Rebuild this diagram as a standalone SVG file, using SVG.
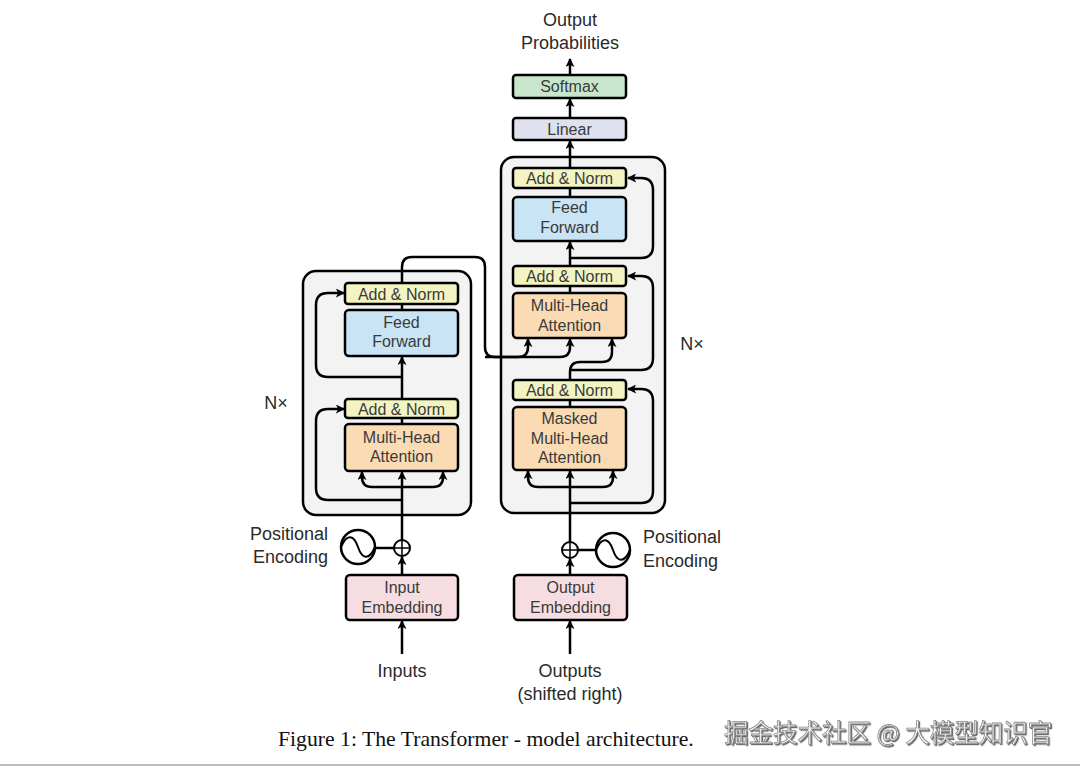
<svg xmlns="http://www.w3.org/2000/svg" width="1080" height="767" viewBox="0 0 1080 767">
<defs>
<marker id="ah" viewBox="0 0 10 10" refX="9" refY="5" markerWidth="9" markerHeight="9" markerUnits="userSpaceOnUse" orient="auto">
<path d="M0,0 L10,5 L0,10 L2.5,5 Z" fill="#000"/>
</marker>
<filter id="sh" x="-5%" y="-20%" width="110%" height="140%">
<feDropShadow dx="1.2" dy="1.2" stdDeviation="0.6" flood-color="#555" flood-opacity="0.9"/>
</filter>
<style>
.blk{fill:#f3f3f3;stroke:#000;stroke-width:2.5}
.box{stroke:#000;stroke-width:2.5}
.an{fill:#f4f4c3}
.ff{fill:#c8e4f5}
.mha{fill:#fbdbb4}
.emb{fill:#f6dde1}
.lin{fill:#dfe1ee}
.sm{fill:#c8e6cc}
.t{font-family:"Liberation Sans",Arial,sans-serif;font-size:16px;fill:#3a3a3a;text-anchor:middle}
.l{font-family:"Liberation Sans",Arial,sans-serif;font-size:18px;fill:#2a2a2a}
.c{stroke:#000;stroke-width:2.5;fill:none}
.a{marker-end:url(#ah)}
</style>
</defs>
<rect width="1080" height="767" fill="#fff"/>

<g id="encoder-block"><rect class="blk" x="303" y="271" width="168" height="244" rx="13"/></g>
<g id="decoder-block"><rect class="blk" x="501" y="157" width="164" height="356" rx="13"/></g>

<g id="connectors">
<!-- encoder -->
<path class="c a" d="M402,654 V621"/>
<path class="c a" d="M402,575 V557"/>
<path class="c" d="M375,548 H394"/>
<path class="c a" d="M402,540 V472"/>
<path class="c a" d="M402,487 H372 Q362,487 362,477 V472"/>
<path class="c a" d="M402,487 H433 Q443,487 443,477 V472"/>
<path class="c a" d="M402,500 H328 Q316,500 316,488 V421 Q316,409 328,409 H344"/>
<path class="c" d="M402,424 V418"/>
<path class="c a" d="M402,399 V357"/>
<path class="c a" d="M402,377 H328 Q316,377 316,365 V305 Q316,293 328,293 H344"/>
<path class="c" d="M402,310 V304"/>
<path class="c a" d="M402,283 V267 Q402,257 412,257 H475 Q485,257 485,267 V347 Q485,357 495,357 H518 Q528,357 528,347 V339"/>
<path class="c a" d="M485,357 H560 Q570,357 570,347 V339"/>
<!-- decoder -->
<path class="c a" d="M570,654 V621"/>
<path class="c a" d="M570,575 V559"/>
<path class="c" d="M578,550 H596"/>
<path class="c a" d="M570,542 V471"/>
<path class="c a" d="M570,487 H538 Q528,487 528,477 V471"/>
<path class="c a" d="M570,487 H603 Q613,487 613,477 V471"/>
<path class="c a" d="M570,503 H641 Q653,503 653,491 V401 Q653,389 641,389 H628"/>
<path class="c" d="M570,407 V400"/>
<path class="c a" d="M570,380 V372 Q570,362 580,362 H602 Q612,362 612,352 V339"/>
<path class="c a" d="M570,370 H641 Q653,370 653,358 V288 Q653,276 641,276 H628"/>
<path class="c" d="M570,293 V286"/>
<path class="c a" d="M570,266 V242"/>
<path class="c a" d="M570,258 H641 Q653,258 653,246 V190 Q653,178 641,178 H628"/>
<path class="c" d="M570,197 V188"/>
<path class="c a" d="M570,168 V141"/>
<path class="c a" d="M570,118 V99"/>
<path class="c a" d="M570,75 V59"/>
</g>

<g id="enc-addnorm2"><rect class="box an" x="345" y="283" width="113" height="21" rx="3"/><text class="t" x="401.5" y="299.5">Add &amp; Norm</text></g>
<g id="enc-ff"><rect class="box ff" x="345" y="310" width="113" height="46" rx="4"/><text class="t" x="401.5" y="328">Feed</text><text class="t" x="401.5" y="347">Forward</text></g>
<g id="enc-addnorm1"><rect class="box an" x="345" y="399" width="113" height="19" rx="3"/><text class="t" x="401.5" y="414.5">Add &amp; Norm</text></g>
<g id="enc-mha"><rect class="box mha" x="345" y="424" width="113" height="47" rx="4"/><text class="t" x="401.5" y="443">Multi-Head</text><text class="t" x="401.5" y="462">Attention</text></g>
<g id="enc-pe"><circle cx="358" cy="547" r="17" fill="#fff" stroke="#000" stroke-width="2.5"/><path d="M341,547 C347,533 354,535 358,547 S369,561 375,547" fill="none" stroke="#000" stroke-width="2"/></g>
<g id="enc-plus"><circle cx="402" cy="548" r="8" fill="#fff" stroke="#000" stroke-width="2"/><path d="M394,548 H410 M402,540 V556" stroke="#000" stroke-width="1.5"/></g>
<g id="enc-emb"><rect class="box emb" x="346" y="575" width="112" height="45" rx="4"/><text class="t" x="402" y="593">Input</text><text class="t" x="402" y="613">Embedding</text></g>

<g id="dec-addnorm3"><rect class="box an" x="513" y="168" width="113" height="20" rx="3"/><text class="t" x="569.5" y="184">Add &amp; Norm</text></g>
<g id="dec-ff"><rect class="box ff" x="513" y="197" width="113" height="44" rx="4"/><text class="t" x="569.5" y="213">Feed</text><text class="t" x="569.5" y="233">Forward</text></g>
<g id="dec-addnorm2"><rect class="box an" x="513" y="266" width="113" height="20" rx="3"/><text class="t" x="569.5" y="282">Add &amp; Norm</text></g>
<g id="dec-mha"><rect class="box mha" x="513" y="293" width="113" height="45" rx="4"/><text class="t" x="569.5" y="311">Multi-Head</text><text class="t" x="569.5" y="331">Attention</text></g>
<g id="dec-addnorm1"><rect class="box an" x="513" y="380" width="113" height="20" rx="3"/><text class="t" x="569.5" y="396">Add &amp; Norm</text></g>
<g id="dec-mmha"><rect class="box mha" x="513" y="407" width="113" height="63" rx="4"/><text class="t" x="569.5" y="424">Masked</text><text class="t" x="569.5" y="444">Multi-Head</text><text class="t" x="569.5" y="463">Attention</text></g>
<g id="dec-pe"><circle cx="613" cy="550" r="17" fill="#fff" stroke="#000" stroke-width="2.5"/><path d="M596,550 C602,536 609,538 613,550 S624,564 630,550" fill="none" stroke="#000" stroke-width="2"/></g>
<g id="dec-plus"><circle cx="570" cy="550" r="8" fill="#fff" stroke="#000" stroke-width="2"/><path d="M562,550 H578 M570,542 V558" stroke="#000" stroke-width="1.5"/></g>
<g id="dec-emb"><rect class="box emb" x="514" y="575" width="113" height="45" rx="4"/><text class="t" x="570.5" y="593">Output</text><text class="t" x="570.5" y="613">Embedding</text></g>
<g id="linear"><rect class="box lin" x="513" y="118" width="113" height="22" rx="3"/><text class="t" x="569.5" y="135">Linear</text></g>
<g id="softmax"><rect class="box sm" x="513" y="75" width="113" height="23" rx="3"/><text class="t" x="569.5" y="92">Softmax</text></g>

<g id="labels">
<text class="l" x="570" y="26" text-anchor="middle">Output</text>
<text class="l" x="570" y="49" text-anchor="middle">Probabilities</text>
<text class="l" x="276" y="409" text-anchor="middle">N×</text>
<text class="l" x="692" y="350" text-anchor="middle">N×</text>
<text class="l" x="328" y="540" text-anchor="end">Positional</text>
<text class="l" x="328" y="563" text-anchor="end">Encoding</text>
<text class="l" x="643" y="543">Positional</text>
<text class="l" x="643" y="567">Encoding</text>
<text class="l" x="402" y="677" text-anchor="middle">Inputs</text>
<text class="l" x="570" y="677" text-anchor="middle">Outputs</text>
<text class="l" x="570" y="700" text-anchor="middle">(shifted right)</text>
</g>

<g id="caption">
<text x="278" y="746" font-family="'Liberation Serif','Times New Roman',serif" font-size="21.7" fill="#111">Figure 1: The Transformer - model architecture.</text>
<text x="724" y="742" font-family="'Noto Sans CJK SC','Liberation Sans',sans-serif" font-size="24.5" fill="#fbfbfb" stroke="#8a8a8a" stroke-width="0.8" filter="url(#sh)">掘金技术社区 @ 大模型知识官</text>
<line x1="0" y1="765" x2="1080" y2="765" stroke="#bdbdbd" stroke-width="2"/>
</g>
</svg>
